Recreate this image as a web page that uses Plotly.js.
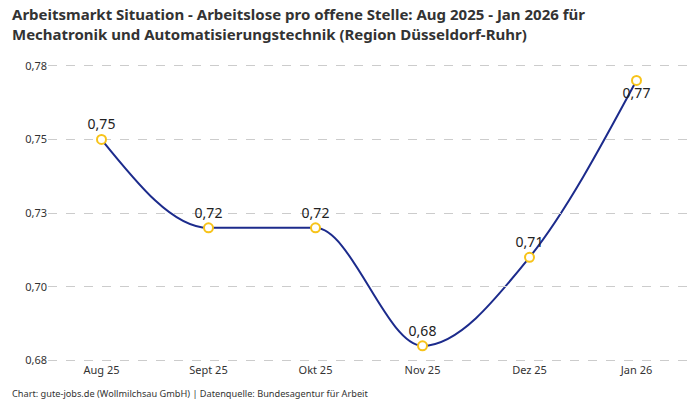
<!DOCTYPE html>
<html>
<head>
<meta charset="utf-8">
<script src="https://cdn.plot.ly/plotly-3.0.1.min.js"></script>
<style>
  html, body { margin: 0; padding: 0; background: #fff; }
  #chart { width: 700px; height: 400px; }
</style>
</head>
<body>
<div id="chart"></div>
<script>
// Arbeitslose pro offene Stelle, monthly
const months = ["Aug 25", "Sept 25", "Okt 25", "Nov 25", "Dez 25", "Jan 26"];
const ratio = [0.75, 0.72, 0.72, 0.68, 0.71, 0.77];
const ratioLabels = ["0,75", "0,72", "0,72", "0,68", "0,71", "0,77"];
const labelPositions = ["top center", "top center", "top center", "top center", "top center", "bottom center"];

const yTickVals = [0.675, 0.7, 0.725, 0.75, 0.775];
const yTickText = ["0,68", "0,70", "0,73", "0,75", "0,78"];

const FONT = "'Noto Sans', 'DejaVu Sans', sans-serif";
const LINE_COLOR = "#1c2b8c";

/**
 * Monotone cubic curve (same rule as d3.curveMonotoneX) as an SVG path
 * in data coordinates, so the axes do the pixel mapping.
 */
function monotonePath(xs, ys) {
  const n = xs.length;
  const sign = (v) => (v > 0 ? 1 : v < 0 ? -1 : 0);
  const m = new Array(n).fill(0);
  for (let i = 1; i < n - 1; i++) {
    const h0 = xs[i] - xs[i - 1];
    const h1 = xs[i + 1] - xs[i];
    const s0 = (ys[i] - ys[i - 1]) / h0;
    const s1 = (ys[i + 1] - ys[i]) / h1;
    const p = (s0 * h1 + s1 * h0) / (h0 + h1);
    m[i] = (sign(s0) + sign(s1)) * Math.min(Math.abs(s0), Math.abs(s1), 0.5 * Math.abs(p)) || 0;
  }
  const h = (i) => xs[i + 1] - xs[i];
  m[0] = (3 * (ys[1] - ys[0]) / h(0) - m[1]) / 2;
  m[n - 1] = (3 * (ys[n - 1] - ys[n - 2]) / h(n - 2) - m[n - 2]) / 2;

  let d = `M ${xs[0]},${ys[0]}`;
  for (let i = 0; i < n - 1; i++) {
    const dx = h(i) / 3;
    d += ` C ${xs[i] + dx},${ys[i] + dx * m[i]} ${xs[i + 1] - dx},${ys[i + 1] - dx * m[i + 1]} ${xs[i + 1]},${ys[i + 1]}`;
  }
  return d;
}

const xIdx = months.map((_, i) => i);

const points = {
  x: xIdx,
  y: ratio,
  mode: "markers+text",
  marker: { size: 9, color: "#ffffff", line: { color: "#f7c31a", width: 2 } },
  text: ratioLabels,
  textposition: labelPositions,
  textfont: { family: FONT, size: 14, color: "#222" },
  cliponaxis: false,
  hoverinfo: "skip",
};

const layout = {
  width: 700,
  height: 400,
  paper_bgcolor: "#fff",
  plot_bgcolor: "#fff",
  font: { family: FONT, color: "#333", size: 11 },
  margin: { l: 48, r: 10, t: 51, b: 37.5 },
  xaxis: {
    range: [-0.5, 5.5],
    tickvals: xIdx,
    ticktext: months,
    showgrid: false,
    zeroline: false,
    showline: false,
    ticks: "",
    tickfont: { family: FONT, size: 11, color: "#333" },
  },
  yaxis: {
    range: [0.6745, 0.78],
    tickvals: yTickVals,
    ticktext: yTickText,
    gridcolor: "#cccccc",
    griddash: "dash",
    gridwidth: 1,
    zeroline: false,
    showline: false,
    ticks: "",
    tickfont: { family: FONT, size: 11, color: "#333" },
  },
  showlegend: false,
  shapes: [
    {
      type: "path",
      xref: "x",
      yref: "y",
      path: monotonePath(xIdx, ratio),
      line: { color: LINE_COLOR, width: 2 },
      layer: "below",
    },
  ],
  annotations: [
    {
      text: "<b>Arbeitsmarkt Situation - Arbeitslose pro offene Stelle: Aug 2025 - Jan 2026 für<br>Mechatronik und Automatisierungstechnik (Region Düsseldorf-Ruhr)</b>",
      xref: "paper",
      yref: "paper",
      x: -0.059,
      y: 1.157,
      xanchor: "left",
      yanchor: "top",
      align: "left",
      showarrow: false,
      font: { family: FONT, size: 15, color: "#333" },
    },
    {
      text: "Chart: gute-jobs.de (Wollmilchsau GmbH) | Datenquelle: Bundesagentur für Arbeit",
      xref: "paper",
      yref: "paper",
      x: -0.059,
      y: -0.1,
      xanchor: "left",
      yanchor: "middle",
      showarrow: false,
      font: { family: FONT, size: 9.2, color: "#333" },
    },
  ],
};

Plotly.newPlot("chart", [points], layout, { displayModeBar: false, staticPlot: true });
</script>
</body>
</html>
